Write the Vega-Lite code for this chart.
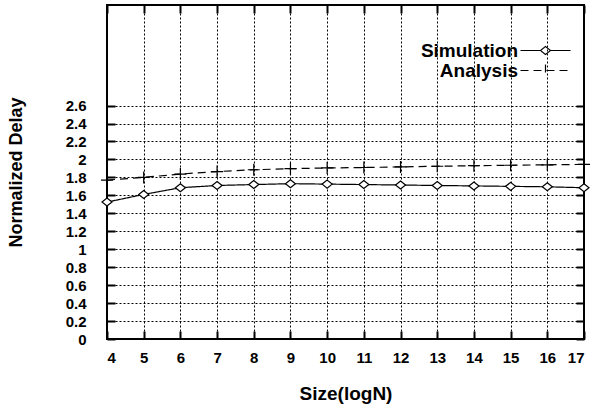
{
  "$schema": "https://vega.github.io/schema/vega-lite/v6.json",
  "width": 477,
  "height": 334,
  "autosize": "none",
  "padding": {"left": 107, "top": 5, "right": 13, "bottom": 66},
  "background": "white",
  "config": {
    "view": {"stroke": "black", "strokeWidth": 2},
    "font": "Liberation Sans",
    "axis": {
      "labelFont": "Liberation Sans", "labelFontWeight": "bold", "labelFontSize": 15, "labelColor": "black",
      "titleFont": "Liberation Sans", "titleFontWeight": "bold", "titleFontSize": 18, "titleColor": "black",
      "domain": false, "tickColor": "black", "tickWidth": 2, "tickSize": -8,
      "gridColor": "black", "gridDash": [2, 2], "gridWidth": 1, "gridOpacity": 1
    }
  },
  "data": {"values": [
    {"size": 4, "delay": 1.525, "series": "Simulation"},
    {"size": 5, "delay": 1.61, "series": "Simulation"},
    {"size": 6, "delay": 1.685, "series": "Simulation"},
    {"size": 7, "delay": 1.71, "series": "Simulation"},
    {"size": 8, "delay": 1.72, "series": "Simulation"},
    {"size": 9, "delay": 1.73, "series": "Simulation"},
    {"size": 10, "delay": 1.725, "series": "Simulation"},
    {"size": 11, "delay": 1.72, "series": "Simulation"},
    {"size": 12, "delay": 1.715, "series": "Simulation"},
    {"size": 13, "delay": 1.71, "series": "Simulation"},
    {"size": 14, "delay": 1.705, "series": "Simulation"},
    {"size": 15, "delay": 1.70, "series": "Simulation"},
    {"size": 16, "delay": 1.695, "series": "Simulation"},
    {"size": 17, "delay": 1.685, "series": "Simulation"},
    {"size": 4, "delay": 1.77, "series": "Analysis"},
    {"size": 5, "delay": 1.80, "series": "Analysis"},
    {"size": 6, "delay": 1.837, "series": "Analysis"},
    {"size": 7, "delay": 1.865, "series": "Analysis"},
    {"size": 8, "delay": 1.885, "series": "Analysis"},
    {"size": 9, "delay": 1.897, "series": "Analysis"},
    {"size": 10, "delay": 1.905, "series": "Analysis"},
    {"size": 11, "delay": 1.91, "series": "Analysis"},
    {"size": 12, "delay": 1.917, "series": "Analysis"},
    {"size": 13, "delay": 1.924, "series": "Analysis"},
    {"size": 14, "delay": 1.93, "series": "Analysis"},
    {"size": 15, "delay": 1.935, "series": "Analysis"},
    {"size": 16, "delay": 1.94, "series": "Analysis"},
    {"size": 17, "delay": 1.945, "series": "Analysis"}
  ]},
  "layer": [
    {
      "mark": {"type": "line", "color": "black", "strokeWidth": 1.2},
      "encoding": {
        "x": {"field": "size", "type": "quantitative", "scale": {"domain": [4, 17], "nice": false},
              "axis": {"title": "Size(logN)", "titleFontSize": 19, "values": [4,5,6,7,8,9,10,11,12,13,14,15,16,17], "labelPadding": 19, "titlePadding": 19, "grid": true}},
        "y": {"field": "delay", "type": "quantitative", "scale": {"domain": [0, 3.72], "nice": false, "zero": false},
              "axis": {"title": "Normalized Delay", "values": [0,0.2,0.4,0.6,0.8,1,1.2,1.4,1.6,1.8,2,2.2,2.4,2.6], "format": "~g", "labelPadding": 29, "titlePadding": 40, "grid": true}},
        "strokeDash": {"field": "series", "type": "nominal",
          "scale": {"domain": ["Simulation", "Analysis"], "range": [[1, 0], [8, 5]]},
          "legend": {
            "title": null, "orient": "none", "legendX": 429, "legendY": 36, "direction": "vertical",
            "symbolSize": 100, "symbolType": "stroke", "symbolStrokeColor": "black", "symbolStrokeWidth": 1.2,
            "labelFont": "Liberation Sans", "labelFontWeight": "bold", "labelFontSize": 19, "labelColor": "black",
            "labelAlign": "right", "labelOffset": -37, "labelLimit": 0, "rowPadding": 0, "padding": 0,
            "encode": {"symbols": {"update": {"shape": {"signal": "datum.value === 'Simulation' ? 'M-5,0H-1M-1,0L0,-0.8L1,0L0,0.8ZM1,0H5' : 'M-5,0H5M0,-1.2V1.2'"}, "fill": {"value": "transparent"}}}}
          }}
      }
    },
    {
      "encoding": {
        "x": {"field": "size", "type": "quantitative", "scale": {"domain": [4, 17], "nice": false},
              "axis": {"title": null, "labels": false, "grid": false, "values": [4,5,6,7,8,9,10,11,12,13,14,15,16,17]}},
        "y": {"field": "delay", "type": "quantitative", "scale": {"domain": [0, 3.72], "nice": false, "zero": false},
              "axis": {"title": null, "labels": false, "grid": false, "values": [0,0.2,0.4,0.6,0.8,1,1.2,1.4,1.6,1.8,2,2.2,2.4,2.6]}}
      },
      "layer": [
        {
          "transform": [{"filter": "datum.series === 'Simulation'"}],
          "mark": {"type": "point", "shape": "M0,-0.8L1,0L0,0.8L-1,0Z", "filled": true, "fill": "white", "stroke": "black", "strokeWidth": 1.2, "size": 100, "opacity": 1}
        },
        {
          "transform": [{"filter": "datum.series === 'Analysis'"}],
          "mark": {"type": "point", "shape": "M-1.2,0H1.2M0,-1.2V1.2", "filled": false, "stroke": "black", "strokeWidth": 1.2, "size": 100, "opacity": 1}
        }
      ]
    }
  ],
  "resolve": {"axis": {"x": "independent", "y": "independent"}}
}
